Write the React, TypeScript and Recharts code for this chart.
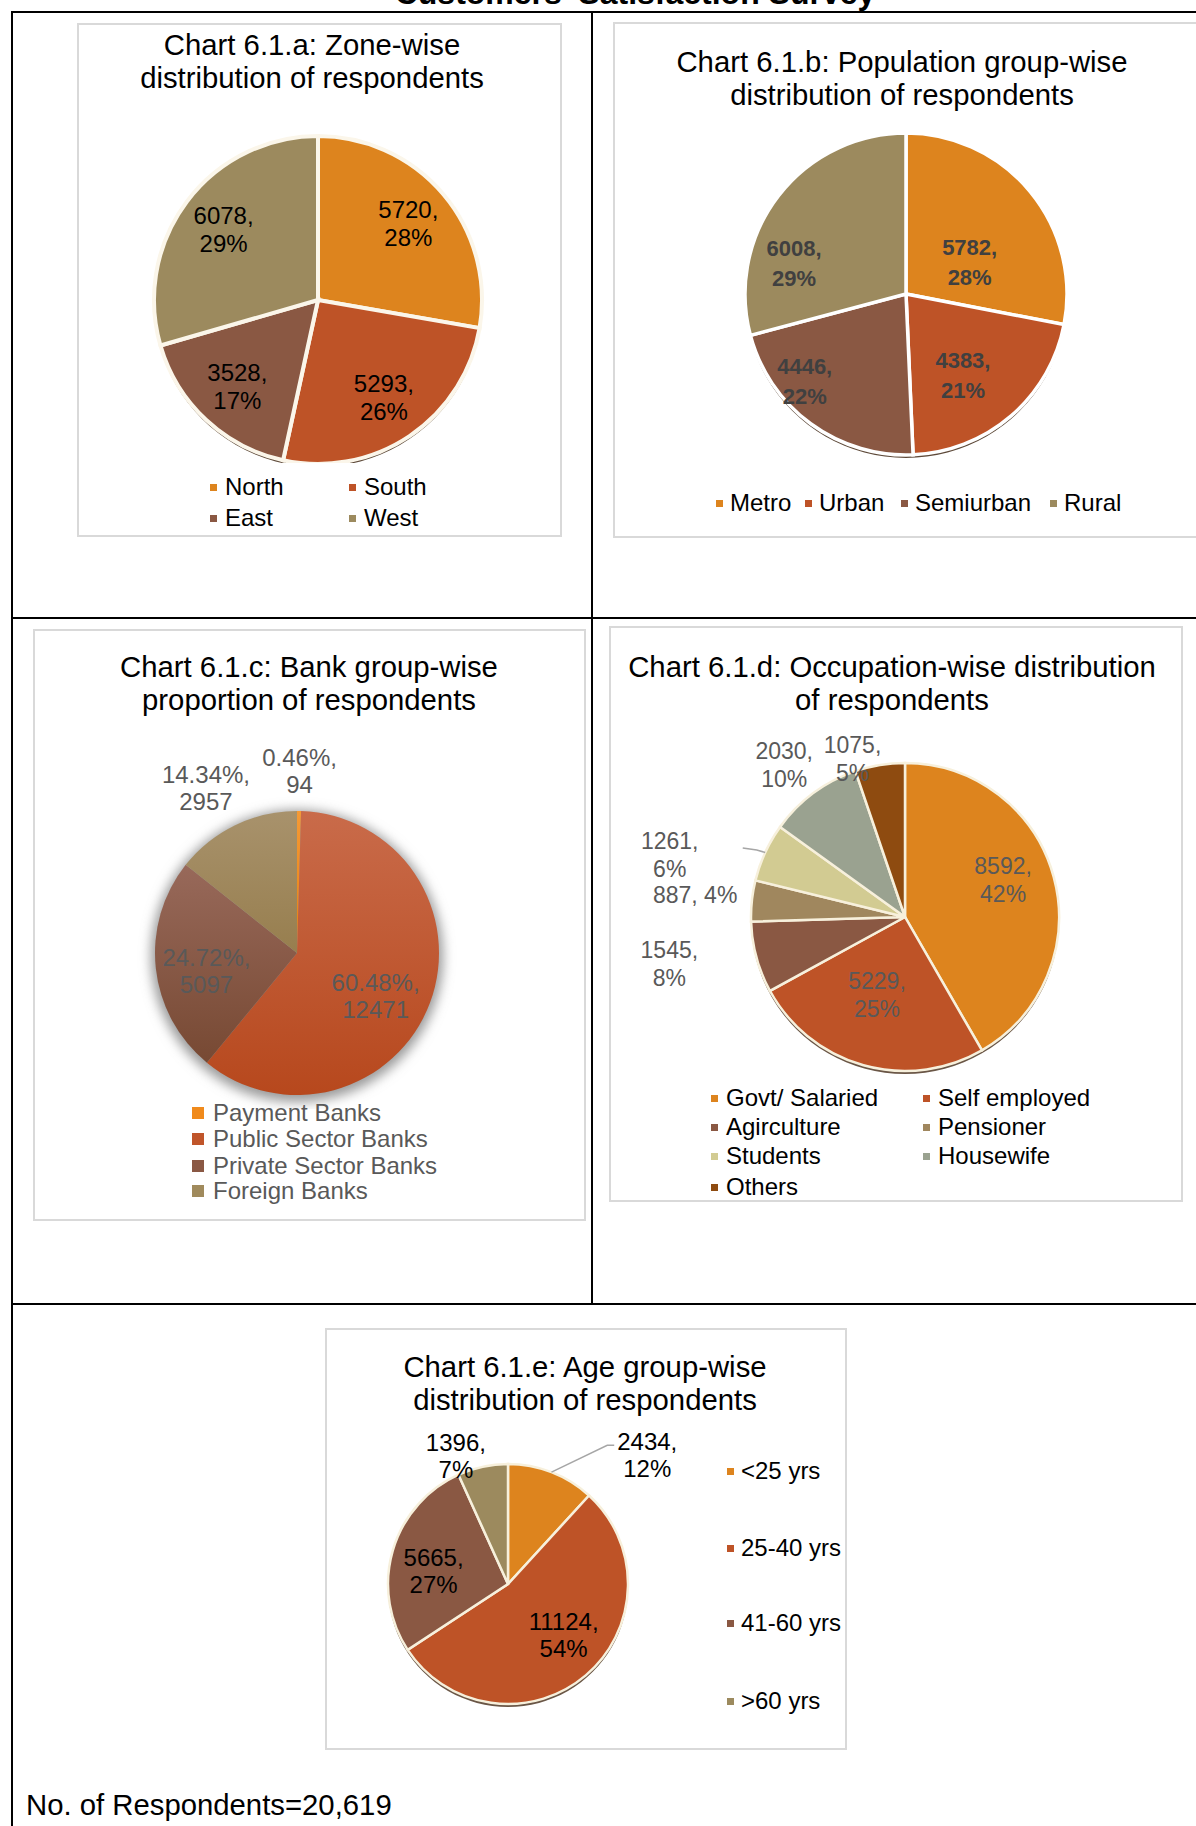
import React from 'react';
import { PieChart, Pie, Cell } from 'recharts';

const FONT = 'Arial, "Liberation Sans", Helvetica, sans-serif';

// Chart 6.1.a: zone-wise
const zoneNames = ['North', 'South', 'East', 'West'];
const zoneValues = [5720, 5293, 3528, 6078];
const zonePct = ['28%', '26%', '17%', '29%'];

// Chart 6.1.b: population group-wise
const popNames = ['Metro', 'Urban', 'Semiurban', 'Rural'];
const popValues = [5782, 4383, 4446, 6008];
const popPct = ['28%', '21%', '22%', '29%'];

// Chart 6.1.c: bank group-wise
const bankNames = ['Payment Banks', 'Public Sector Banks', 'Private Sector Banks', 'Foreign Banks'];
const bankValues = [94, 12471, 5097, 2957];
const bankPct = ['0.46%', '60.48%', '24.72%', '14.34%'];

// Chart 6.1.d: occupation-wise
const occNames = ['Govt/ Salaried', 'Self employed', 'Agirculture', 'Pensioner', 'Students', 'Housewife', 'Others'];
const occValues = [8592, 5229, 1545, 887, 1261, 2030, 1075];
const occPct = ['42%', '25%', '8%', '4%', '6%', '10%', '5%'];

// Chart 6.1.e: age group-wise
const ageNames = ['<25 yrs', '25-40 yrs', '41-60 yrs', '>60 yrs'];
const ageValues = [2434, 11124, 5665, 1396];
const agePct = ['12%', '54%', '27%', '7%'];

const totalRespondents = '20,619';

const zoneColors = ['#DD841E', '#BE5327', '#8A5843', '#9C8A5E'];
const bankColors = ['#F08A1C', '#C0552A', '#8A5844', '#A08A5C'];
const bankFills = ['url(#gPay)', 'url(#gPub)', 'url(#gPriv)', 'url(#gFor)'];
const occColors = ['#DD841E', '#BE5327', '#8A5843', '#A0875E', '#D2CB92', '#9AA290', '#8E4B10'];

const RAD = Math.PI / 180;
const NO_MARGIN = { top: 0, right: 0, bottom: 0, left: 0 };

type LabelCfg = {
  radius: number[];
  shift: number[];
  lines: (i: number) => string[];
  color: string;
  size: number;
  weight?: string | number;
  gap: number;
  leader?: { index: number; elbow: [number, number]; end: [number, number] };
};

const makeLabel = (cfg: LabelCfg) => (p: any) => {
  const { cx, cy, midAngle, outerRadius, index } = p;
  const a = (90 - midAngle + cfg.shift[index]) * RAD;
  const r = outerRadius * cfg.radius[index];
  const x = cx + r * Math.sin(a);
  const y = cy - r * Math.cos(a);
  const lines = cfg.lines(index);
  const top = y - ((lines.length - 1) * cfg.gap) / 2;
  let leader = null;
  if (cfg.leader && cfg.leader.index === index) {
    const m = (90 - midAngle) * RAD;
    const ex = cx + outerRadius * Math.sin(m);
    const ey = cy - outerRadius * Math.cos(m);
    const { elbow, end } = cfg.leader;
    leader = (
      <path
        d={`M${ex},${ey}L${x + elbow[0]},${y + elbow[1]}L${x + end[0]},${y + end[1]}`}
        stroke="#A6A6A6"
        strokeWidth={1.5}
        fill="none"
      />
    );
  }
  return (
    <g>
      {leader}
      {lines.map((t, k) => (
        <text
          key={k}
          x={x}
          y={top + k * cfg.gap}
          textAnchor="middle"
          dominantBaseline="central"
          fill={cfg.color}
          fontSize={cfg.size}
          fontWeight={cfg.weight ?? 'normal'}
          fontFamily={FONT}
        >
          {t}
        </text>
      ))}
    </g>
  );
};

type LegendProps = {
  names: string[];
  colors: string[];
  markerX: number[];
  rowY: number[];
  gap: number;
  size: number;
  textColor: string;
};

function SwatchLegend({ names, colors, markerX, rowY, gap, size, textColor }: LegendProps) {
  const ncols = markerX.length;
  return (
    <>
      {names.map((n, i) => {
        const mx = markerX[i % ncols];
        const my = rowY[Math.floor(i / ncols)];
        return (
          <React.Fragment key={n}>
            <div
              style={{
                position: 'absolute',
                left: mx - size / 2,
                top: my - size / 2,
                width: size,
                height: size,
                background: colors[i],
              }}
            />
            <div
              style={{
                position: 'absolute',
                left: mx + gap,
                top: my - 15,
                height: 30,
                lineHeight: '30px',
                fontSize: 24,
                color: textColor,
                whiteSpace: 'nowrap',
              }}
            >
              {n}
            </div>
          </React.Fragment>
        );
      })}
    </>
  );
}

function Box({ x, y, w, h }: { x: number; y: number; w: number; h: number }) {
  return (
    <div
      style={{
        position: 'absolute',
        left: x,
        top: y,
        width: w,
        height: h,
        border: '2px solid #D9D9D9',
        boxSizing: 'border-box',
      }}
    />
  );
}

function Title({ lines, cx, y }: { lines: string[]; cx: number; y: number }) {
  return (
    <div
      style={{
        position: 'absolute',
        left: cx - 300,
        top: y - 17,
        width: 600,
        textAlign: 'center',
        fontSize: 29.3,
        lineHeight: '33px',
        color: '#000',
      }}
    >
      {lines.map((l) => (
        <div key={l}>{l}</div>
      ))}
    </div>
  );
}

const Line = ({ x, y, w, h }: { x: number; y: number; w: number; h: number }) => (
  <div style={{ position: 'absolute', left: x, top: y, width: w, height: h, background: '#000' }} />
);

const one = [{ v: 1 }];

export default function App() {
  const zoneData = zoneNames.map((n, i) => ({ name: n, value: zoneValues[i] }));
  const popData = popNames.map((n, i) => ({ name: n, value: popValues[i] }));
  const bankData = bankNames.map((n, i) => ({ name: n, value: bankValues[i] }));
  const occData = occNames.map((n, i) => ({ name: n, value: occValues[i] }));
  const ageData = ageNames.map((n, i) => ({ name: n, value: ageValues[i] }));

  return (
    <div
      style={{
        position: 'absolute',
        left: 0,
        top: 0,
        width: 1196,
        height: 1826,
        overflow: 'hidden',
        background: '#fff',
        fontFamily: FONT,
      }}
    >
      {/* page heading, cut at the top */}
      <div
        style={{
          position: 'absolute',
          left: 335,
          top: -23,
          width: 600,
          textAlign: 'center',
          fontSize: 32,
          lineHeight: '32px',
          fontWeight: 'bold',
        }}
      >
        Customers' Satisfaction Survey
      </div>

      {/* table grid */}
      <Line x={11} y={11} w={1185} h={2} />
      <Line x={11} y={11} w={2} h={1815} />
      <Line x={591} y={11} w={2} h={1294} />
      <Line x={11} y={617} w={1185} h={2} />
      <Line x={11} y={1303} w={1185} h={2} />

      {/* Chart a */}
      <Box x={77} y={23} w={485} h={514} />
      <Title lines={['Chart 6.1.a: Zone-wise', 'distribution of respondents']} cx={312} y={45} />
      <div style={{ position: 'absolute', left: 77, top: 23 }}>
        <PieChart width={484} height={440} margin={NO_MARGIN}>
          <Pie data={one} dataKey="v" cx={241} cy={280} outerRadius={164} fill="#5E4A3A" stroke="none" isAnimationActive={false} />
          <Pie
            data={zoneData}
            dataKey="value"
            cx={241}
            cy={277}
            outerRadius={164}
            startAngle={90}
            endAngle={-270}
            isAnimationActive={false}
            labelLine={false}
            label={makeLabel({
              radius: [0.72, 0.72, 0.72, 0.72],
              shift: [0, 0, 0, 0],
              lines: (i) => [`${zoneValues[i]},`, zonePct[i]],
              color: '#000',
              size: 24,
              gap: 28,
            })}
          >
            {zoneData.map((d, i) => (
              <Cell key={d.name} fill={zoneColors[i]} stroke="#FBF6EA" strokeWidth={4} />
            ))}
          </Pie>
        </PieChart>
      </div>
      <SwatchLegend names={zoneNames} colors={zoneColors} markerX={[213, 352]} rowY={[487, 518]} gap={12} size={7} textColor="#000" />

      {/* Chart b */}
      <Box x={613} y={22} w={600} h={516} />
      <Title lines={['Chart 6.1.b: Population group-wise', 'distribution of respondents']} cx={902} y={62} />
      <div style={{ position: 'absolute', left: 613, top: 22 }}>
        <PieChart width={583} height={440} margin={NO_MARGIN}>
          <Pie data={one} dataKey="v" cx={293} cy={275} outerRadius={161} fill="#5E4A3A" stroke="none" isAnimationActive={false} />
          <Pie
            data={popData}
            dataKey="value"
            cx={293}
            cy={272}
            outerRadius={161}
            startAngle={90}
            endAngle={-270}
            isAnimationActive={false}
            labelLine={false}
            label={makeLabel({
              radius: [0.44, 0.62, 0.83, 0.72],
              shift: [13.5, 6, 13, -22.5],
              lines: (i) => [`${popValues[i]},`, popPct[i]],
              color: '#404040',
              size: 22,
              weight: 'bold',
              gap: 30,
            })}
          >
            {popData.map((d, i) => (
              <Cell key={d.name} fill={zoneColors[i]} stroke="#FFFFFF" strokeWidth={3.5} />
            ))}
          </Pie>
        </PieChart>
      </div>
      <SwatchLegend names={popNames} colors={zoneColors} markerX={[719, 808, 904, 1053]} rowY={[503]} gap={11} size={7} textColor="#000" />

      {/* Chart c */}
      <Box x={33} y={629} w={553} h={592} />
      <Title lines={['Chart 6.1.c: Bank group-wise', 'proportion of respondents']} cx={309} y={667} />
      <div style={{ position: 'absolute', left: 33, top: 629 }}>
        <PieChart width={553} height={480} margin={NO_MARGIN}>
          <defs>
            <linearGradient id="gPay" x1="0" y1="0" x2="0" y2="1">
              <stop offset="0%" stopColor="#F59A35" />
              <stop offset="100%" stopColor="#E57F12" />
            </linearGradient>
            <linearGradient id="gPub" x1="0" y1="0" x2="0" y2="1">
              <stop offset="0%" stopColor="#C96B4A" />
              <stop offset="100%" stopColor="#B7481D" />
            </linearGradient>
            <linearGradient id="gPriv" x1="0" y1="0" x2="0" y2="1">
              <stop offset="0%" stopColor="#98695A" />
              <stop offset="100%" stopColor="#774933" />
            </linearGradient>
            <linearGradient id="gFor" x1="0" y1="0" x2="0" y2="1">
              <stop offset="0%" stopColor="#A8926C" />
              <stop offset="100%" stopColor="#977E4E" />
            </linearGradient>
            <filter id="softShadow" x="-20%" y="-20%" width="140%" height="140%">
              <feGaussianBlur stdDeviation="6" />
            </filter>
          </defs>
          <Pie data={one} dataKey="v" cx={264} cy={327} outerRadius={146} fill="#9A9A9A" stroke="none" isAnimationActive={false} style={{ filter: 'url(#softShadow)' }} />
          <Pie
            data={bankData}
            dataKey="value"
            cx={264}
            cy={324}
            outerRadius={142}
            startAngle={90}
            endAngle={-270}
            isAnimationActive={false}
            labelLine={false}
            label={makeLabel({
              radius: [1.28, 0.63, 0.65, 1.33],
              shift: [0, 8, -5, -3],
              lines: (i) => [`${bankPct[i]},`, `${bankValues[i]}`],
              color: '#595959',
              size: 24,
              gap: 27,
            })}
          >
            {bankData.map((d, i) => (
              <Cell key={d.name} fill={bankFills[i]} stroke="none" />
            ))}
          </Pie>
        </PieChart>
      </div>
      <SwatchLegend names={bankNames} colors={bankColors} markerX={[198]} rowY={[1113, 1139, 1166, 1191]} gap={15} size={12} textColor="#595959" />

      {/* Chart d */}
      <Box x={609} y={626} w={574} h={576} />
      <Title lines={['Chart 6.1.d: Occupation-wise distribution', 'of respondents']} cx={892} y={667} />
      <div style={{ position: 'absolute', left: 609, top: 626 }}>
        <PieChart width={574} height={470} margin={NO_MARGIN}>
          <Pie data={one} dataKey="v" cx={296} cy={294} outerRadius={154} fill="#6A5646" stroke="none" isAnimationActive={false} />
          <Pie
            data={occData}
            dataKey="value"
            cx={296}
            cy={291}
            outerRadius={154}
            startAngle={90}
            endAngle={-270}
            isAnimationActive={false}
            labelLine={false}
            label={makeLabel({
              radius: [0.68, 0.54, 1.56, 1.37, 1.58, 1.26, 1.08],
              shift: [-5.5, 4, 4, 0, -10, -2, -9],
              lines: (i) => (i === 3 ? [`${occValues[i]}, ${occPct[i]}`] : [`${occValues[i]},`, occPct[i]]),
              color: '#595959',
              size: 23,
              gap: 28,
              leader: { index: 4, elbow: [87, -5], end: [73, -7] },
            })}
          >
            {occData.map((d, i) => (
              <Cell key={d.name} fill={occColors[i]} stroke="#F7F0DC" strokeWidth={2.5} />
            ))}
          </Pie>
        </PieChart>
      </div>
      <SwatchLegend names={occNames} colors={occColors} markerX={[714, 926]} rowY={[1098, 1127, 1156, 1187]} gap={12} size={7} textColor="#000" />

      {/* Chart e */}
      <Box x={325} y={1328} w={522} h={422} />
      <Title lines={['Chart 6.1.e: Age group-wise', 'distribution of respondents']} cx={585} y={1367} />
      <div style={{ position: 'absolute', left: 325, top: 1328 }}>
        <PieChart width={522} height={420} margin={NO_MARGIN}>
          <Pie data={one} dataKey="v" cx={183} cy={259} outerRadius={120} fill="#6A5646" stroke="none" isAnimationActive={false} />
          <Pie
            data={ageData}
            dataKey="value"
            cx={183}
            cy={256}
            outerRadius={120}
            startAngle={90}
            endAngle={-270}
            isAnimationActive={false}
            labelLine={false}
            label={makeLabel({
              radius: [1.58, 0.63, 0.63, 1.15],
              shift: [26, -7, -6, -10],
              lines: (i) => [`${ageValues[i]},`, agePct[i]],
              color: '#000',
              size: 24,
              gap: 27,
              leader: { index: 0, elbow: [-40, -10], end: [-33, -10] },
            })}
          >
            {ageData.map((d, i) => (
              <Cell key={d.name} fill={zoneColors[i]} stroke="#F7F0DC" strokeWidth={2.5} />
            ))}
          </Pie>
        </PieChart>
      </div>
      <SwatchLegend names={ageNames} colors={zoneColors} markerX={[730]} rowY={[1471, 1548, 1623, 1701]} gap={11} size={7} textColor="#000" />

      {/* footnote */}
      <div style={{ position: 'absolute', left: 26, top: 1788, fontSize: 29.3, lineHeight: '34px', color: '#000' }}>
        No. of Respondents={totalRespondents}
      </div>
    </div>
  );
}
